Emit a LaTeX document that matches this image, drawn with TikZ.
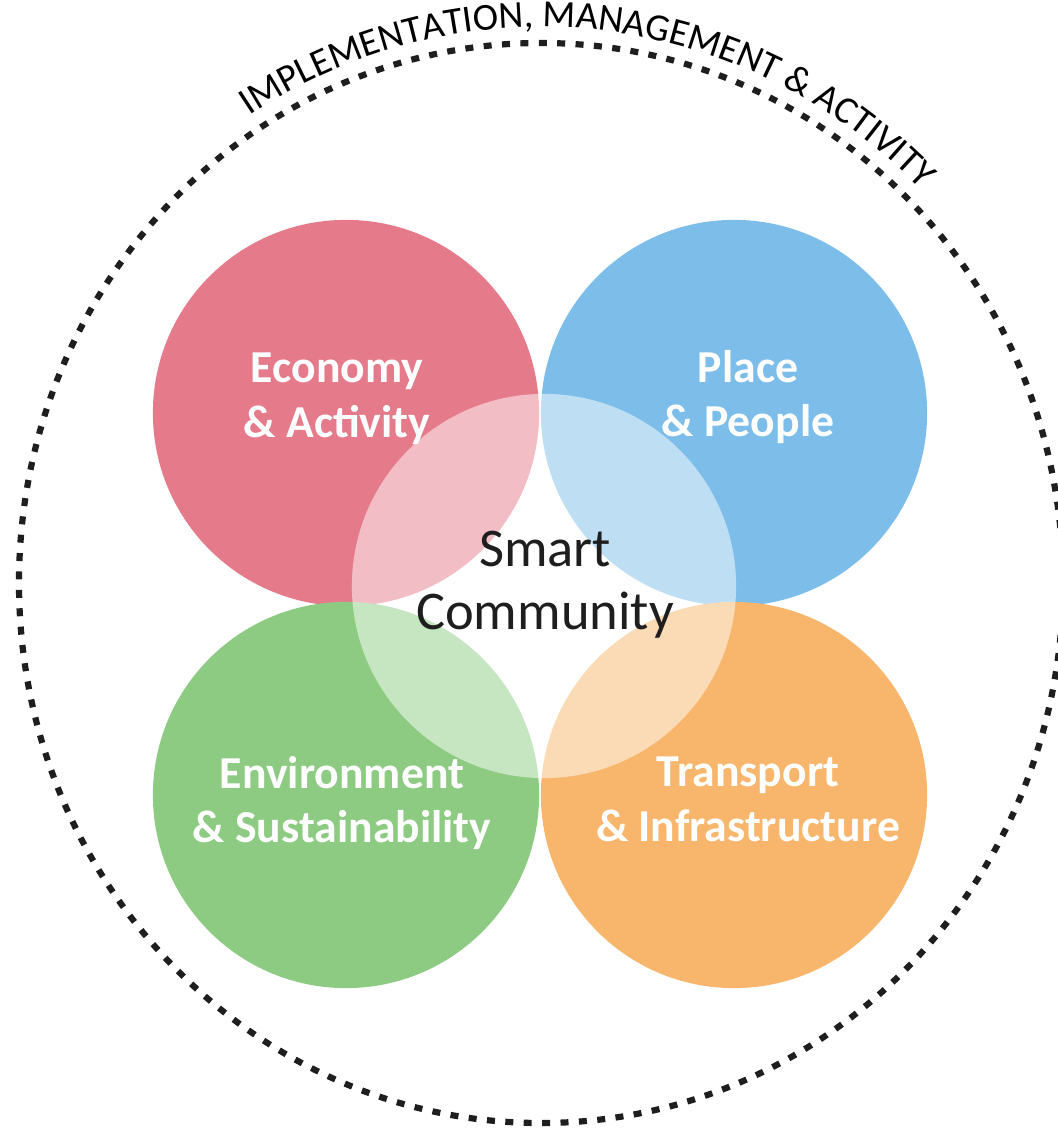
\documentclass[tikz,border=0pt]{standalone}
\usepackage{fontspec}
\setmainfont{Carlito}
\usetikzlibrary{positioning, decorations.text}
\definecolor{ecored}{RGB}{229,123,138}
\definecolor{placeblue}{RGB}{125,189,234}
\definecolor{envgreen}{RGB}{141,203,131}
\definecolor{transorange}{RGB}{248,182,109}
\definecolor{inkdark}{RGB}{30,30,30}
\newcommand{\rimfont}{\fontsize{10.9}{13}\selectfont}
\tikzset{area/.style={circle, minimum size=3.86cm, inner sep=0pt},
  hub/.style={circle, minimum size=3.84cm, inner sep=0pt, fill=white, fill opacity=0.5},
  areatext/.style={text=white, font=\bfseries\fontsize{13}{15.6}\selectfont, align=center, inner sep=0pt},
  hubtext/.style={text=inkdark, font=\fontsize{15.5}{17.9}\selectfont, align=center, inner sep=0pt},
  rim/.style={draw=inkdark, line width=0.062cm, dash pattern=on 0.08cm off 0.104cm}}

\begin{document}
\begin{tikzpicture}[x=0.01cm, y=0.01cm]
  \useasboundingbox (-541,-545) rectangle (516,583);
  \draw[rim] (0,0) ellipse [x radius=522, y radius=540];
  \path[decorate, decoration={text along path, text align=center,
      text={|\rimfont|IMPLEMENTATION, MANAGEMENT {\&} ACTIVITY}}]
    (134:538 and 556) arc[start angle=134, end angle=34, x radius=538, y radius=556];

  \node[area, fill=ecored] (econ) at (-195,170) {};
  \node[area, fill=placeblue] (place) at (193,170) {};
  \node[area, fill=envgreen] (env) at (-195,-212) {};
  \node[area, fill=transorange] (trans) at (193,-212) {};
  \node[hub] (smart) at (3,-3) {};

  \node[areatext] (econtext) at (-204,184) {Economy\\\& Activity};
  \node[areatext] (placetext) at (207,186) {Place\\\& People};
  \node[areatext] (envtext) at (-199,-220) {Environment\\\& Sustainability};
  \node[areatext] (transtext) at (207,-216) {Transport\\\& Infrastructure};
  \node[hubtext] (smarttext) at (4,-2) {Smart\\Community};
\end{tikzpicture}
\end{document}
